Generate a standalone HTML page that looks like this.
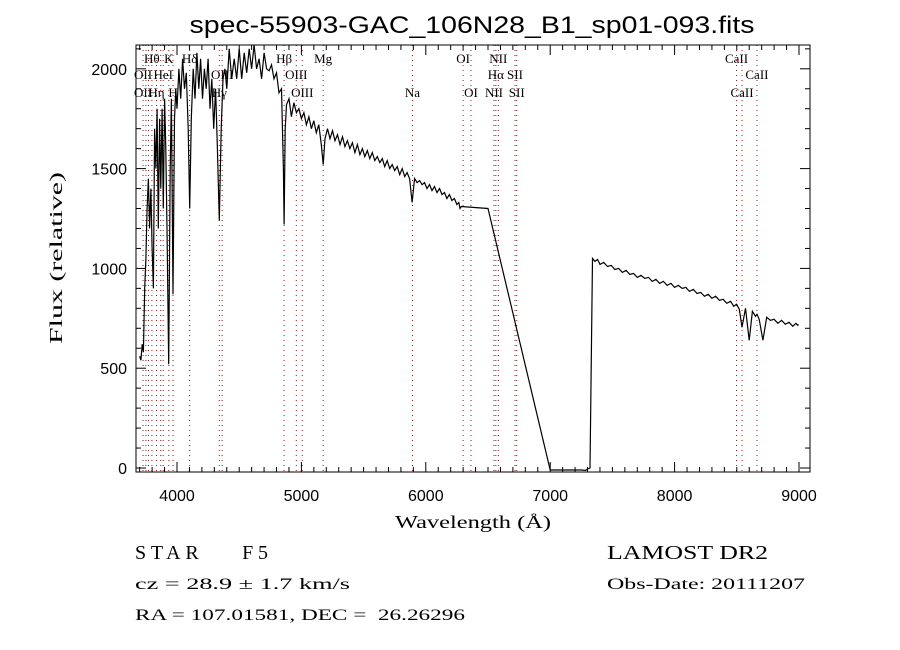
<!DOCTYPE html>
<html><head><meta charset="utf-8"><style>
html,body{margin:0;padding:0;background:#fff;}
svg{display:block;}
</style></head><body>
<svg id="chart" width="900" height="650" viewBox="0 0 900 650" xmlns="http://www.w3.org/2000/svg">
<rect x="0" y="0" width="900" height="650" fill="#fff"/>
<text x="472" y="33" text-anchor="middle" font-family="Liberation Sans, sans-serif" font-size="24" textLength="565" lengthAdjust="spacingAndGlyphs">spec-55903-GAC_106N28_B1_sp01-093.fits</text>
<g id="lines"></g>
<g id="labels"></g>
<g id="series"></g>
<g id="axes"></g>
<text x="473" y="528" text-anchor="middle" font-family="Liberation Serif, serif" font-size="18" textLength="156" lengthAdjust="spacingAndGlyphs">Wavelength (Å)</text>
<text transform="translate(62,258) rotate(-90)" text-anchor="middle" font-family="Liberation Serif, serif" font-size="18" textLength="172" lengthAdjust="spacingAndGlyphs">Flux (relative)</text>
<text x="135" y="559" font-family="Liberation Serif, serif" font-size="20" style="white-space:pre" textLength="133" lengthAdjust="spacing">STAR    F5</text>
<text x="607" y="559" font-family="Liberation Serif, serif" font-size="20" textLength="161" lengthAdjust="spacingAndGlyphs">LAMOST DR2</text>
<text x="135" y="589" font-family="Liberation Serif, serif" font-size="16" textLength="215" lengthAdjust="spacingAndGlyphs">cz = 28.9 ± 1.7 km/s</text>
<text x="607" y="589" font-family="Liberation Serif, serif" font-size="16" textLength="198" lengthAdjust="spacingAndGlyphs">Obs-Date: 20111207</text>
<text x="135" y="620" font-family="Liberation Serif, serif" font-size="16" style="white-space:pre" textLength="330" lengthAdjust="spacingAndGlyphs">RA = 107.01581, DEC =  26.26296</text>
</svg>
<script>
const wavelengths=[3700,3710,3720,3730,3740,3750,3760,3770,3780,3790,3800,3810,3820,3830,3840,3850,3860,3870,3880,3890,3900,3910,3920,3933,3945,3955,3968,3980,3990,4000,4015,4030,4045,4060,4075,4090,4102,4115,4130,4145,4160,4175,4190,4205,4220,4235,4250,4265,4280,4295,4310,4325,4340,4355,4370,4385,4400,4420,4440,4460,4480,4500,4520,4540,4560,4580,4600,4620,4640,4660,4680,4700,4720,4740,4760,4780,4800,4820,4840,4855,4861,4870,4880,4900,4920,4940,4960,4980,5000,5020,5040,5060,5080,5100,5120,5140,5160,5175,5190,5210,5230,5250,5270,5290,5310,5330,5350,5370,5390,5410,5430,5450,5470,5490,5510,5530,5550,5570,5590,5610,5630,5650,5670,5690,5710,5730,5750,5770,5790,5810,5830,5850,5870,5890,5910,5930,5950,5970,5990,6010,6030,6050,6070,6090,6110,6130,6150,6170,6190,6210,6230,6250,6265,6275,6285,6500,7000,7250,7285,7300,7320,7340,7360,7380,7400,7430,7460,7490,7520,7550,7580,7610,7640,7670,7700,7730,7760,7790,7820,7850,7880,7910,7940,7970,8000,8030,8060,8090,8120,8150,8180,8210,8240,8270,8300,8330,8360,8390,8420,8450,8475,8498,8520,8542,8570,8600,8625,8650,8662,8680,8710,8740,8770,8800,8830,8860,8890,8920,8950,8975,8990,8995];
const fluxes=[560,540,620,580,900,1050,1300,1450,1200,1400,1100,900,1700,1500,1800,1200,1750,1400,1800,1300,1850,1600,1200,520,1500,1850,870,1750,1900,1800,2000,1850,2050,1900,1980,1700,1300,1750,2000,1850,2080,1900,2050,1850,2000,1900,2050,1800,1950,1700,1900,1600,1240,1700,1950,2000,1900,2100,1950,2050,1950,2100,1950,2080,1980,2100,2000,2120,2000,2050,1950,2080,2000,1990,2020,1950,1980,1880,1900,1500,1220,1700,1820,1850,1760,1830,1780,1800,1750,1780,1720,1760,1700,1740,1680,1720,1620,1520,1650,1700,1650,1690,1640,1670,1620,1660,1610,1640,1600,1630,1580,1620,1570,1600,1560,1590,1550,1580,1540,1560,1530,1550,1510,1540,1500,1520,1490,1510,1470,1500,1460,1480,1450,1330,1450,1430,1440,1420,1430,1400,1420,1390,1410,1380,1400,1370,1380,1350,1370,1340,1350,1320,1330,1300,1310,1300,-10,-10,-12,-5,0,1050,1035,1045,1020,1030,1010,1015,995,1000,980,990,970,975,955,965,950,955,935,945,925,935,915,925,905,915,900,905,885,895,875,880,860,870,850,860,840,845,825,835,810,820,795,705,800,640,785,760,770,745,640,755,740,745,725,740,720,730,710,725,715,720,700,690,-10];
const xTicks=[4000,5000,6000,7000,8000,9000];
const yTicks=[0,500,1000,1500,2000];
const markerWaves=[3727,3750,3771,3798,3835,3869,3889,3934,3968,4102,4340,4363,4861,4959,5007,5175,5893,6300,6363,6548,6563,6583,6717,6731,8498,8542,8662];
const labelTexts=["Hθ","K","Hδ","Hβ","Mg","OI","NII","CaII","OII","HeI","OIII","OIII","Hα","SII","CaII","OII","Hη","H","Hγ","OIII","Na","OI","NII","SII","CaII"];
const labelWaves=[3798,3934,4102,4861,5175,6300,6583,8498,3727,3889,4363,4959,6563,6717,8662,3727,3835,3968,4340,5007,5893,6363,6548,6731,8542];
const labelRows=[0,0,0,0,0,0,0,0,1,1,1,1,1,1,1,2,2,2,2,2,2,2,2,2,2];

const L=136,R=810,T=45,B=472;
const X=w=>177+(w-4000)*0.1244;
const Y=f=>468-f*0.1996;
const NS="http://www.w3.org/2000/svg";
function mk(tag,attrs,parent){const e=document.createElementNS(NS,tag);for(const k in attrs)e.setAttribute(k,attrs[k]);parent.appendChild(e);return e;}
const gl=document.getElementById('lines'),gla=document.getElementById('labels'),gs=document.getElementById('series'),ga=document.getElementById('axes');
markerWaves.forEach(w=>{
  const l=mk('line',{x1:X(w),x2:X(w),y1:T,y2:B,stroke:'#8b1a1a','stroke-width':1,'stroke-dasharray':'1,4'},gl);
  
  
});
const rowY=[63,79,97];
labelTexts.forEach((t,i)=>{
  const e=mk('text',{x:X(labelWaves[i]),y:rowY[labelRows[i]],'text-anchor':'middle','font-family':'Liberation Serif, serif','font-size':13},gla);
  e.textContent=t;
  
  
});
const pts=wavelengths.map((w,i)=>X(w).toFixed(1)+','+Math.max(T,Y(fluxes[i])).toFixed(1)).join(' ');
const pl=mk('polyline',{points:pts,fill:'none',stroke:'#000','stroke-width':1.2},gs);


const box=mk('rect',{x:L,y:T,width:R-L,height:B-T,fill:'none',stroke:'#000','stroke-width':1},ga);


for(let w=3700;w<=9000;w+=100){
  const major=w%1000===0;const len=major?10:5;
  mk('line',{x1:X(w),x2:X(w),y1:B,y2:B-len,stroke:'#000'},ga);
  mk('line',{x1:X(w),x2:X(w),y1:T,y2:T+len,stroke:'#000'},ga);
}
for(let f=0;f<=2100;f+=100){
  const major=f%500===0;const len=major?10:5;
  mk('line',{x1:L,x2:L+len,y1:Y(f),y2:Y(f),stroke:'#000'},ga);
  mk('line',{x1:R,x2:R-len,y1:Y(f),y2:Y(f),stroke:'#000'},ga);
}
xTicks.forEach(v=>{
  const e=mk('text',{x:X(v),y:501,'text-anchor':'middle','font-family':'Liberation Sans, sans-serif','font-size':16},ga);
  e.textContent=v;
  
  
});
yTicks.forEach(v=>{
  const e=mk('text',{x:127,y:Y(v)+6,'text-anchor':'end','font-family':'Liberation Sans, sans-serif','font-size':16},ga);
  e.textContent=v;
  
  
});
</script>
</body></html>
